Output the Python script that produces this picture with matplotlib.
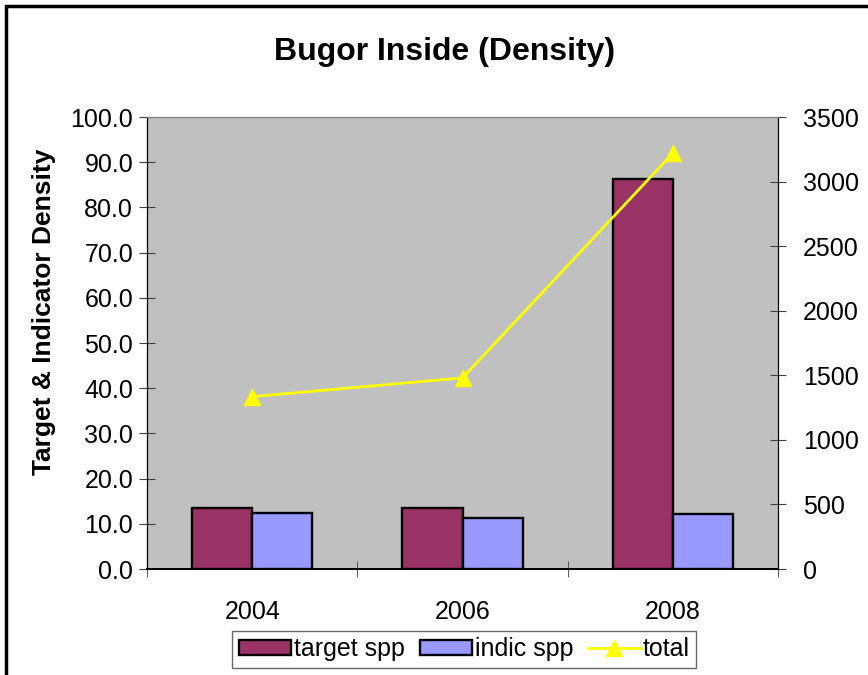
import numpy as np
import matplotlib
matplotlib.use("Agg")
import matplotlib.pyplot as plt
from matplotlib.patches import Rectangle

plt.rcParams['font.family'] = ['Liberation Sans', 'DejaVu Sans']

years = ["2004", "2006", "2008"]
target_spp = [13.4, 13.4, 86.2]
indic_spp = [12.4, 11.3, 12.2]
total = [1335, 1480, 3220]

fig = plt.figure(figsize=(8.68, 6.75), dpi=100)
ax = fig.add_axes([0.1694, 0.157, 0.7269, 0.6696])
ax.set_facecolor('#C0C0C0')

x = np.arange(len(years))
w = 2 / 7
b1 = ax.bar(x - w / 2, target_spp, w, color='#993366', edgecolor='black', linewidth=1.7,
            label='target spp', zorder=2)
b2 = ax.bar(x + w / 2, indic_spp, w, color='#9999FF', edgecolor='black', linewidth=1.7,
            label='indic spp', zorder=2)
ax.set_xlim(-0.5, 2.5)
ax.set_ylim(0, 100)
ax.set_yticks(np.arange(0, 101, 10))
ax.set_yticklabels([f"{v:.1f}" for v in np.arange(0, 101, 10)])
ax.set_xticks(x)
ax.set_xticklabels(years)
ax.set_xticks([-0.5, 0.5, 1.5, 2.5], minor=True)
ax.tick_params(axis='x', which='major', length=0, pad=22, labelsize=18)
ax.tick_params(axis='x', which='minor', direction='inout', length=12, color='#404040')
ax.tick_params(axis='y', direction='inout', length=12, labelsize=18, pad=4, color='#404040')
ax.set_ylabel("Target & Indicator Density", fontsize=19, fontweight='bold')
ax.yaxis.set_label_coords(-0.144, 0.57)

ax2 = ax.twinx()
l1, = ax2.plot(x, total, color='#FFFF00', linewidth=2, marker='^', markersize=11,
               label='total', zorder=3)
ax2.set_ylim(0, 3500)
ax2.set_yticks(np.arange(0, 3501, 500))
ax2.tick_params(axis='y', direction='inout', length=12, labelsize=18, pad=12, color='#404040')

for a in (ax, ax2):
    a.spines['top'].set_color('#808080')
    a.spines['left'].set_color('black')
    a.spines['right'].set_color('black')
    a.spines['bottom'].set_color('black')
    a.spines['bottom'].set_linewidth(1.3)

fig.text(0.512, 0.923, "Bugor Inside (Density)", ha='center', va='center',
         fontsize=23, fontweight='bold')

fig.legend(handles=[b1, b2, l1], loc='center', bbox_to_anchor=(0.535, 0.038), ncol=3,
           fontsize=18, frameon=True, fancybox=False, edgecolor='#404040',
           handlelength=2.1, handleheight=0.6, handletextpad=0.1, columnspacing=0.6,
           borderpad=0.25, borderaxespad=0)

# outer chart border
fig.add_artist(Rectangle((6 / 868, -0.1), 2, 1.1 - 6 / 675, transform=fig.transFigure,
                         fill=False, edgecolor='black', linewidth=2.5))

fig.savefig("out.png", dpi=100)
